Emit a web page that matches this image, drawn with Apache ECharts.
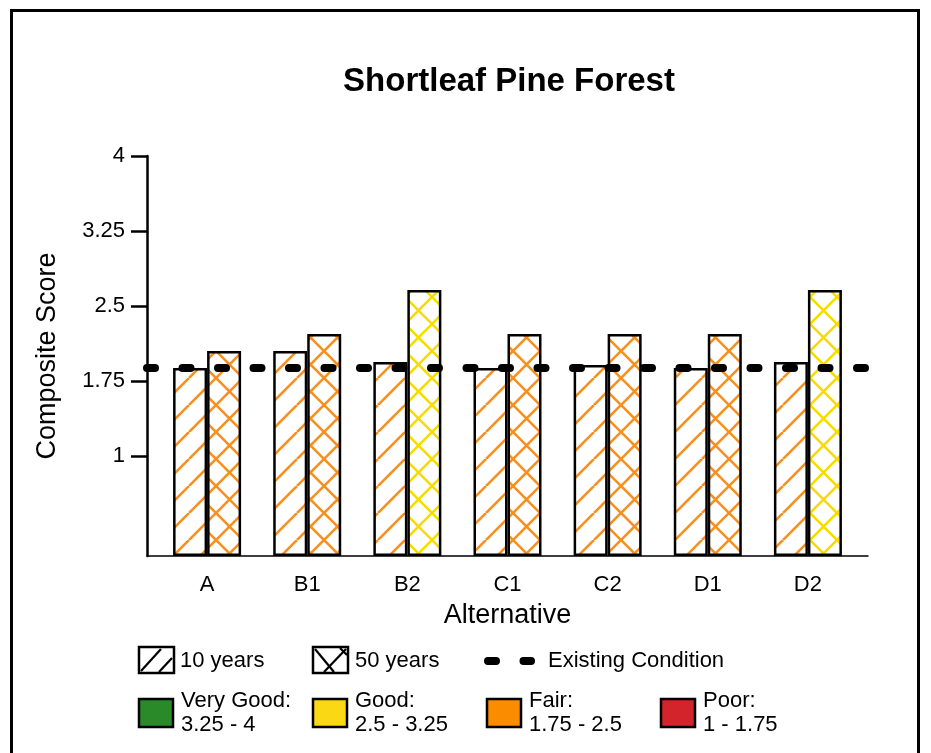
<!DOCTYPE html>
<html>
<head>
<meta charset="utf-8">
<title>Shortleaf Pine Forest</title>
<script src="https://cdn.jsdelivr.net/npm/echarts@6/dist/echarts.min.js"></script>
<style>
  html, body { margin: 0; padding: 0; background: #fff; }
  #main { width: 931px; height: 753px; }
</style>
</head>
<body>
<div id="main"></div>
<script>
// data
var alternatives = ['A', 'B1', 'B2', 'C1', 'C2', 'D1', 'D2'];
var tenYears = [1.88, 2.05, 1.94, 1.88, 1.91, 1.88, 1.94];
var fiftyYears = [2.05, 2.22, 2.66, 2.22, 2.22, 2.22, 2.66];
var existingCondition = 1.88;
var yTicks = [1, 1.75, 2.5, 3.25, 4];

// condition classes (lower bound, colour)
var classes = [
  { name: 'Very Good:', range: '3.25 - 4', min: 3.25, color: '#2a8a2a', hatch: '#2a8a2a' },
  { name: 'Good:', range: '2.5 - 3.25', min: 2.5, color: '#fad814', hatch: '#f7dc00' },
  { name: 'Fair:', range: '1.75 - 2.5', min: 1.75, color: '#fb8c00', hatch: '#f7901e' },
  { name: 'Poor:', range: '1 - 1.75', min: -Infinity, color: '#d4242b', hatch: '#d4242b' }
];

var FONT = '"Liberation Sans", Arial, sans-serif';

function classOf(v) {
  for (var i = 0; i < classes.length; i++) {
    if (v >= classes[i].min) return classes[i];
  }
  return classes[classes.length - 1];
}

// hatch tiles
var patternCache = {};
function hatch(color, cross) {
  var key = color + (cross ? 'x' : '/');
  if (patternCache[key]) return patternCache[key];
  var s = 27;
  var c = document.createElement('canvas');
  c.width = s; c.height = s;
  var ctx = c.getContext('2d');
  ctx.fillStyle = '#fff';
  ctx.fillRect(0, 0, s, s);
  ctx.strokeStyle = color;
  ctx.lineWidth = 2.6;
  for (var k = -1; k <= 1; k++) {
    ctx.beginPath();
    ctx.moveTo(k * s, s);
    ctx.lineTo(k * s + s, 0);
    ctx.stroke();
    if (cross) {
      ctx.beginPath();
      ctx.moveTo(k * s, 0);
      ctx.lineTo(k * s + s, s);
      ctx.stroke();
    }
  }
  patternCache[key] = { image: c, repeat: 'repeat' };
  return patternCache[key];
}

function barData(values, cross) {
  return values.map(function (v, i) {
    return {
      value: [i, v],
      itemStyle: { color: hatch(classOf(v).hatch, cross) }
    };
  });
}

var myChart = echarts.init(document.getElementById('main'));

// legend drawn as graphic elements
var legend = [];
function box(x, y) {
  return {
    type: 'rect', shape: { x: x, y: y, width: 35, height: 26 },
    style: { fill: '#fff', stroke: '#000', lineWidth: 2.5 }, z: 10
  };
}
function seg(x1, y1, x2, y2) {
  return {
    type: 'line', shape: { x1: x1, y1: y1, x2: x2, y2: y2 },
    style: { stroke: '#000', lineWidth: 2.2 }, z: 11
  };
}
function label(x, y, text) {
  return {
    type: 'text', x: x, y: y, z: 11,
    style: { text: text, fill: '#000', font: '22px ' + FONT, verticalAlign: 'middle', lineHeight: 24 }
  };
}
legend.push(box(139, 647), seg(141, 671, 161, 649), seg(159, 672, 172, 658), label(180, 661, '10 years'));
legend.push(box(313, 647), seg(315, 649, 334, 672), seg(324, 672, 346, 649), seg(340, 648, 347, 655), label(355, 661, '50 years'));
legend.push({
  type: 'line', shape: { x1: 488, y1: 661, x2: 531, y2: 661 }, z: 11,
  style: { stroke: '#000', lineWidth: 8, lineDash: [8, 27.5], lineCap: 'round' }
});
legend.push(label(548, 661, 'Existing Condition'));
var swatchX = [139, 313, 487, 661];
classes.forEach(function (c, i) {
  legend.push({
    type: 'rect', shape: { x: swatchX[i], y: 699, width: 34, height: 28 },
    style: { fill: c.color, stroke: '#000', lineWidth: 2.5 }, z: 10
  });
  legend.push(label(swatchX[i] + 42, 713, c.name + '\n' + c.range));
});

var option = {
  animation: false,
  backgroundColor: '#fff',
  title: {
    text: 'Shortleaf Pine Forest',
    left: 504,
    top: 60,
    textAlign: 'center',
    textStyle: { fontFamily: FONT, fontWeight: 'bold', fontSize: 33, color: '#000' }
  },
  grid: { left: 147, right: 63, top: 156, bottom: 197 },
  xAxis: {
    type: 'value',
    min: -0.6,
    max: 6.6,
    name: 'Alternative',
    nameLocation: 'middle',
    nameGap: 46,
    nameTextStyle: { fontFamily: FONT, fontSize: 27, color: '#000' },
    axisLine: { onZero: false, lineStyle: { color: '#000', width: 1.5 } },
    axisTick: { show: false },
    splitLine: { show: false },
    axisLabel: {
      customValues: alternatives.map(function (a, i) { return i; }),
      formatter: function (v) { return alternatives[Math.round(v)]; },
      margin: 18,
      fontFamily: FONT, fontSize: 22, color: '#000'
    }
  },
  yAxis: {
    type: 'value',
    min: 0,
    max: 4,
    name: 'Composite Score',
    nameLocation: 'middle',
    nameGap: 86,
    nameTextStyle: { fontFamily: FONT, fontSize: 27, color: '#000' },
    axisLine: { show: true, onZero: false, lineStyle: { color: '#000', width: 2.5 } },
    axisTick: { show: true, customValues: yTicks, length: 16, lineStyle: { color: '#000', width: 2.5 } },
    splitLine: { show: false },
    axisLabel: {
      customValues: yTicks,
      margin: 22,
      fontFamily: FONT, fontSize: 22, color: '#000'
    }
  },
  series: [
    {
      name: '10 years',
      type: 'bar',
      barWidth: 34,
      barGap: '0%',
      itemStyle: { borderColor: '#000', borderWidth: 2.5 },
      emphasis: { disabled: true },
      data: barData(tenYears, false)
    },
    {
      name: '50 years',
      type: 'bar',
      barWidth: 34,
      barGap: '0%',
      itemStyle: { borderColor: '#000', borderWidth: 2.5 },
      emphasis: { disabled: true },
      data: barData(fiftyYears, true),
      z: 2
    },
    {
      name: 'Existing Condition',
      type: 'line',
      data: [],
      z: 5,
      markLine: {
        silent: true,
        symbol: 'none',
        label: { show: false },
        lineStyle: { color: '#000', width: 8, type: [8, 27.5], cap: 'round' },
        data: [{ yAxis: existingCondition }]
      }
    }
  ],
  graphic: [
    {
      type: 'rect', shape: { x: 11.5, y: 10.5, width: 907, height: 800 },
      style: { fill: 'none', stroke: '#000', lineWidth: 3 }, silent: true
    }
  ].concat(legend)
};

myChart.setOption(option);
</script>
</body>
</html>
